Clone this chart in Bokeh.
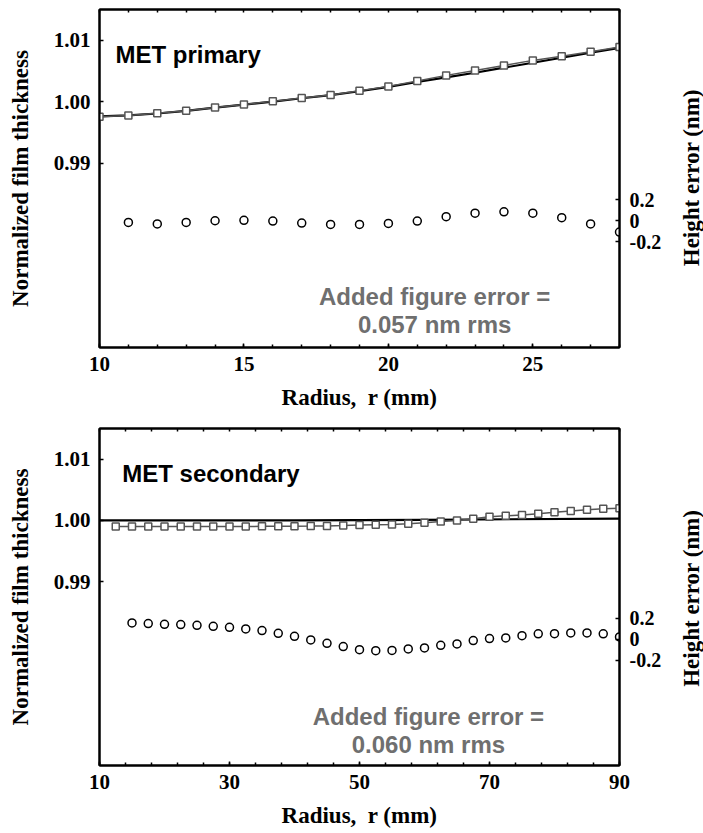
import math
from bokeh.plotting import figure
from bokeh.layouts import column, row
from bokeh.models import (Range1d, LinearAxis, FixedTicker, Label)
from bokeh.embed import file_html
from bokeh.resources import INLINE

# ---------------- data ----------------
# MET primary
top_r = [10, 11, 12, 13, 14, 15, 16, 17, 18, 19, 20, 21, 22, 23, 24, 25, 26, 27, 28]
top_meas = [0.99756, 0.99777, 0.99810, 0.99854, 0.99907, 0.99956, 1.00005, 1.00059, 1.00107,
            1.00176, 1.00249, 1.00335, 1.00428, 1.00509, 1.00590, 1.00672, 1.00741, 1.00813, 1.00888]
top_fit = [0.99760, 0.99778, 0.99808, 0.99850, 0.99902, 0.99952, 1.00002, 1.00056, 1.00106,
           1.00170, 1.00240, 1.00320, 1.00395, 1.00471, 1.00553, 1.00634, 1.00715, 1.00797, 1.00875]
top_err_r = [11, 12, 13, 14, 15, 16, 17, 18, 19, 20, 21, 22, 23, 24, 25, 26, 27, 28]
top_err = [-0.016, -0.030, -0.016, 0.000, 0.004, -0.003, -0.022, -0.035, -0.035, -0.025,
           -0.003, 0.039, 0.072, 0.085, 0.072, 0.029, -0.030, -0.107]

# MET secondary
bot_r = [12.5, 15, 17.5, 20, 22.5, 25, 27.5, 30, 32.5, 35, 37.5, 40, 42.5, 45, 47.5, 50,
         52.5, 55, 57.5, 60, 62.5, 65, 67.5, 70, 72.5, 75, 77.5, 80, 82.5, 85, 87.5, 90]
bot_meas = [0.99900, 0.99900, 0.99901, 0.99901, 0.99901, 0.99902, 0.99902, 0.99902, 0.99902,
            0.99903, 0.99904, 0.99905, 0.99907, 0.99910, 0.99915, 0.99925, 0.99930, 0.99934,
            0.99946, 0.99962, 0.99984, 1.00000, 1.00028, 1.00060, 1.00075, 1.00090, 1.00108,
            1.00132, 1.00152, 1.00172, 1.00190, 1.00200]
bot_fit_r = [10, 40, 60, 90]
bot_fit = [1.00000, 1.00000, 1.00010, 1.00030]
bot_err_r = [15, 17.5, 20, 22.5, 25, 27.5, 30, 32.5, 35, 37.5, 40, 42.5, 45, 47.5, 50, 52.5,
             55, 57.5, 60, 62.5, 65, 67.5, 70, 72.5, 75, 77.5, 80, 82.5, 85, 87.5, 90]
bot_err = [0.154, 0.148, 0.141, 0.138, 0.131, 0.122, 0.112, 0.097, 0.081, 0.055, 0.027, -0.008,
           -0.040, -0.071, -0.100, -0.110, -0.107, -0.093, -0.084, -0.059, -0.046, -0.014,
           0.005, 0.011, 0.033, 0.050, 0.052, 0.059, 0.059, 0.050, 0.021]

left_ticks = [0.99, 1.00, 1.01]
right_ticks = [-0.2, 0, 0.2]
top_xticks = [10, 15, 20, 25]
bot_xticks = [10, 30, 50, 70, 90]

SERIF = "Liberation Serif"
SANS = "Liberation Sans"
GRAY_TXT = "#6f6f6f"
SQ_COLOR = "#555555"

MAIN_W = 675
SIDE_W = 28


def style_axis(ax, tick_size="21px"):
    ax.axis_line_width = 2
    ax.axis_line_color = "black"
    ax.major_tick_in = 4
    ax.major_tick_out = 0
    ax.minor_tick_in = 3
    ax.minor_tick_out = 0
    ax.major_tick_line_width = 1.5
    ax.minor_tick_line_width = 1.5
    ax.major_label_text_font = SERIF
    ax.major_label_text_font_style = "bold"
    ax.major_label_text_font_size = tick_size
    ax.major_label_text_color = "black"
    ax.axis_label_text_font = SERIF
    ax.axis_label_text_font_style = "bold"
    ax.axis_label_text_font_size = "23px"
    ax.axis_label_text_color = "black"


def make_panel(xr, xticks, xminor, r, meas, fit_r, fit, err_r, err, title, title_xy,
               err_txt, err_xy, height, top_border, bottom_border):
    p = figure(width=MAIN_W, height=height, output_backend="svg", toolbar_location=None,
               x_range=Range1d(*xr), y_range=Range1d(0.96, 1.015),
               min_border_left=99, min_border_right=MAIN_W - 619, min_border_top=top_border,
               min_border_bottom=bottom_border)
    p.extra_y_ranges = {"err": Range1d(-1.2, 2.0)}
    p.grid.visible = False
    p.outline_line_color = "black"
    p.outline_line_width = 2
    p.background_fill_color = "white"
    p.border_fill_color = "white"

    # bottom axis
    xa = p.xaxis[0]
    xa.ticker = FixedTicker(ticks=xticks, minor_ticks=xminor)
    xa.axis_label = "Radius,\u00a0 r (mm)"
    style_axis(xa)
    xa.major_label_standoff = 9
    xa.axis_label_standoff = 11

    # left axis
    ya = p.yaxis[0]
    ya.ticker = FixedTicker(ticks=left_ticks)
    ya.major_label_overrides = {0.99: "0.99", 1.0: "1.00", 1.01: "1.01"}
    ya.axis_label = "Normalized film thickness"
    style_axis(ya)
    ya.major_label_standoff = 9
    ya.axis_label_standoff = 18

    # right axis (ticks and labels; its title is drawn in a side strip)
    ra = LinearAxis(y_range_name="err", ticker=FixedTicker(ticks=right_ticks))
    style_axis(ra, "20px")
    ra.major_label_overrides = {-0.2: "-0.2", 0: "0", 0.2: "0.2"}
    ra.major_label_standoff = 10
    p.add_layout(ra, "right")

    # top mirrored ticks (minor ticks only, no labels)
    ta = LinearAxis(ticker=FixedTicker(ticks=[], minor_ticks=xminor))
    style_axis(ta)
    ta.major_label_standoff = 0
    p.add_layout(ta, "above")

    # data
    p.line(fit_r, fit, line_color="black", line_width=2.2)
    p.line(r, meas, line_color=SQ_COLOR, line_width=1.5)
    p.scatter(r, meas, marker="square", size=7, fill_color="white",
              line_color=SQ_COLOR, line_width=1.5)
    p.scatter(err_r, err, y_range_name="err", marker="circle", size=8,
              fill_color="white", line_color="black", line_width=1.5)

    p.add_layout(Label(x=title_xy[0], y=title_xy[1], text=title, text_font=SANS,
                       text_font_style="bold", text_font_size="24px", text_color="black",
                       text_baseline="alphabetic"))
    for i, t in enumerate(err_txt):
        p.add_layout(Label(x=err_xy[0], y=err_xy[1][i], text=t, text_font=SANS,
                           text_font_style="bold", text_font_size="24px", text_color=GRAY_TXT,
                           text_align="center", text_baseline="alphabetic"))

    # side strip carrying the right-axis title, reading bottom-to-top
    s = figure(width=SIDE_W, height=height, output_backend="svg", toolbar_location=None,
               x_range=Range1d(0, SIDE_W), y_range=Range1d(0, height),
               x_axis_type=None, y_axis_type=None, title=None,
               min_border_left=0, min_border_right=0, min_border_top=0, min_border_bottom=0)
    s.grid.visible = False
    s.outline_line_color = None
    s.background_fill_color = "white"
    s.border_fill_color = "white"
    frame_h = height - top_border - bottom_border
    s.add_layout(Label(x=16, y=height - (top_border + frame_h / 2) - 30,
                       text="Height error (nm)",
                       angle=math.pi / 2, text_font=SERIF, text_font_style="bold",
                       text_font_size="23px", text_color="black",
                       text_align="center", text_baseline="middle"))
    return row(p, s, spacing=0)


r1 = make_panel((10, 28), top_xticks, list(range(10, 29)), top_r, top_meas, top_r, top_fit,
                top_err_r, top_err, "MET primary", (10.55, 1.0077),
                ["Added figure error =", "0.057 nm rms"], (21.6, [0.96834, 0.96379]),
                418, 9, 71)
r2 = make_panel((10, 90), bot_xticks, list(range(10, 91, 4)), bot_r, bot_meas, bot_fit_r,
                bot_fit, bot_err_r, bot_err, "MET secondary", (13.5, 1.00766),
                ["Added figure error =", "0.060 nm rms"], (60.6, [0.96803, 0.96339]),
                414, 10, 67)

layout = column(r1, r2, spacing=0)
open("out.html", "w").write(file_html(layout, INLINE))
